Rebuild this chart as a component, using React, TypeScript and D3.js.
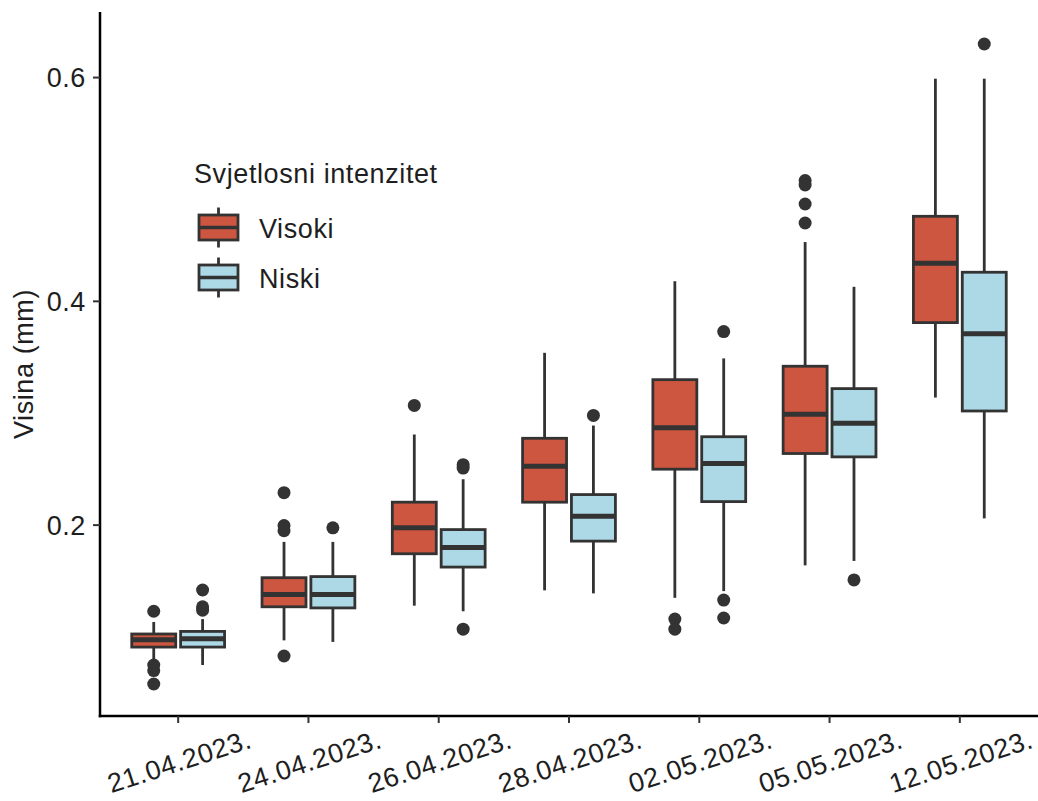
import React from "react";
import * as d3 from "d3";

const dates = ["21.04.2023.", "24.04.2023.", "26.04.2023.", "28.04.2023.", "02.05.2023.", "05.05.2023.", "12.05.2023."];
const seriesNames = ["Visoki", "Niski"];
const seriesColors = ["#cd5640", "#add8e6"];

// [lower whisker, Q1, median, Q3, upper whisker]
const visokiStats = [
  [0.079, 0.091, 0.0976, 0.1027, 0.1134],
  [0.097, 0.127, 0.138, 0.153, 0.185],
  [0.128, 0.1744, 0.1976, 0.2205, 0.281],
  [0.1417, 0.2205, 0.2527, 0.2776, 0.354],
  [0.135, 0.25, 0.287, 0.33, 0.418],
  [0.164, 0.264, 0.299, 0.342, 0.453],
  [0.314, 0.381, 0.434, 0.476, 0.599],
];
const visokiOutliers = [
  [0.123, 0.075, 0.07, 0.058],
  [0.229, 0.1996, 0.195, 0.083],
  [0.307],
  [],
  [0.116, 0.107],
  [0.508, 0.504, 0.487, 0.47],
  [],
];
const niskiStats = [
  [0.075, 0.091, 0.0985, 0.105, 0.116],
  [0.0956, 0.126, 0.138, 0.154, 0.185],
  [0.123, 0.1625, 0.18, 0.196, 0.241],
  [0.139, 0.1857, 0.208, 0.2273, 0.289],
  [0.141, 0.221, 0.255, 0.279, 0.349],
  [0.168, 0.261, 0.291, 0.322, 0.413],
  [0.206, 0.302, 0.371, 0.426, 0.599],
];
const niskiOutliers = [
  [0.142, 0.127, 0.124],
  [0.1976],
  [0.254, 0.251, 0.107],
  [0.298],
  [0.373, 0.133, 0.117],
  [0.151],
  [0.63],
];
const yTicks = [0.2, 0.4, 0.6];

const W = 1038;
const H = 801;
const left = 100;
const right = 1038;
const top = 12;
const bottom = 716;
const ink = "#333333";
const txt = "#1e1e1e";
const font = "'Liberation Sans', Arial, sans-serif";
const fs = 27;
const ls = 0.6;

export default function App() {
  const x = d3.scalePoint<string>().domain(dates).range([left, right]).padding(0.6);
  const step = x.step();
  const sub = d3.scaleBand<string>().domain(seriesNames).range([-0.375 * step, 0.375 * step]);
  const boxW = sub.bandwidth() * 0.9;
  const y = d3.scaleLinear().domain([0.0294, 0.6586]).range([bottom, top]);

  const allStats = [visokiStats, niskiStats];
  const allOut = [visokiOutliers, niskiOutliers];

  return (
    <svg width={W} height={H} style={{ position: "absolute", left: 0, top: 0, background: "#fff" }} fontFamily={font}>
      <rect x={0} y={0} width={W} height={H} fill="#fff" />
      {seriesNames.map((s, si) =>
        dates.map((d, di) => {
          const [lo, q1, med, q3, hi] = allStats[si][di];
          const cx = (x(d) as number) + (sub(s) as number) + sub.bandwidth() / 2;
          return (
            <g key={s + d}>
              <line x1={cx} x2={cx} y1={y(hi)} y2={y(q3)} stroke={ink} strokeWidth={2.8} />
              <line x1={cx} x2={cx} y1={y(q1)} y2={y(lo)} stroke={ink} strokeWidth={2.8} />
              <rect x={cx - boxW / 2} y={y(q3)} width={boxW} height={y(q1) - y(q3)} fill={seriesColors[si]} stroke={ink} strokeWidth={2.8} />
              <line x1={cx - boxW / 2} x2={cx + boxW / 2} y1={y(med)} y2={y(med)} stroke={ink} strokeWidth={5} />
              {allOut[si][di].map((o, oi) => (
                <circle key={oi} cx={cx} cy={y(o)} r={6.5} fill={ink} />
              ))}
            </g>
          );
        })
      )}
      {/* axes */}
      <line x1={left} x2={left} y1={top} y2={bottom + 1.25} stroke="#000" strokeWidth={2.5} />
      <line x1={left - 1.25} x2={right} y1={bottom} y2={bottom} stroke="#000" strokeWidth={2.5} />
      {yTicks.map((t) => (
        <g key={t}>
          <line x1={left - 7} x2={left} y1={y(t)} y2={y(t)} stroke={ink} strokeWidth={2} />
          <text x={left - 14} y={y(t)} dy="0.36em" textAnchor="end" fontSize={fs} letterSpacing={ls} fill={txt}>
            {d3.format(".1f")(t)}
          </text>
        </g>
      ))}
      {dates.map((d) => (
        <g key={d}>
          <line x1={x(d)} x2={x(d)} y1={bottom} y2={bottom + 7} stroke={ink} strokeWidth={2} />
          <text
            transform={`translate(${(x(d) as number) + 1},${761}) rotate(-18)`}
            textAnchor="middle"
            dy="0.36em"
            fontSize={fs}
            letterSpacing={ls}
            fill={txt}
          >
            {d}
          </text>
        </g>
      ))}
      <text transform={`translate(23,${(top + bottom) / 2}) rotate(-90)`} textAnchor="middle" dy="0.36em" fontSize={fs} letterSpacing={ls} fill={txt}>
        Visina (mm)
      </text>
      {/* legend */}
      <text x={194} y={183} fontSize={fs} letterSpacing={ls} fill={txt}>Svjetlosni intenzitet</text>
      {seriesNames.map((s, i) => {
        const cy = 227.5 + i * 50;
        const kx = 199;
        const kw = 39;
        return (
          <g key={s}>
            <line x1={kx + kw / 2} x2={kx + kw / 2} y1={cy - 20} y2={cy + 20} stroke={ink} strokeWidth={2.8} />
            <rect x={kx} y={cy - 12.5} width={kw} height={25} fill={seriesColors[i]} stroke={ink} strokeWidth={2.8} />
            <line x1={kx} x2={kx + kw} y1={cy} y2={cy} stroke={ink} strokeWidth={3.5} />
            <text x={259} y={cy + 10} fontSize={fs} letterSpacing={ls} fill={txt}>{s}</text>
          </g>
        );
      })}
    </svg>
  );
}
